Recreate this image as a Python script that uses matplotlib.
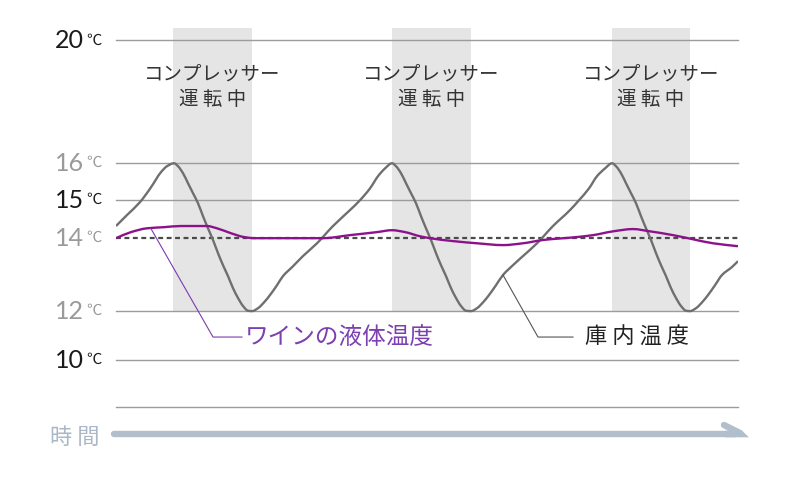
import numpy as np
import matplotlib
matplotlib.use('Agg')
import matplotlib.pyplot as plt
import matplotlib.transforms as mtransforms
from matplotlib.lines import Line2D
from matplotlib.patches import Polygon, PathPatch
from matplotlib.path import Path

# --- data (time in arbitrary units, temperature in deg C) ---
compressor_on = [(57, 136), (276, 355), (496, 574)]

fridge_t = [0, 11, 24, 35, 45, 51, 58, 62, 67, 72, 77, 82, 87, 92, 97, 102, 107, 112,
            117, 122, 127, 132, 136, 142, 149, 154, 161, 167, 177, 187, 201, 217, 234,
            244, 254, 262, 269, 276,
            280, 285, 290, 295, 300, 305, 310, 315, 320, 325, 330, 335, 340, 345, 350,
            355, 361, 368, 373, 380, 387, 397, 407, 421, 437, 454, 463, 473, 481, 489,
            496,
            500, 505, 510, 515, 520, 525, 530, 535, 540, 545, 550, 555, 560, 565, 570,
            574, 580, 587, 592, 599, 606, 616, 622]
fridge_temp = [14.32, 14.61, 14.95, 15.35, 15.76, 15.92, 16.0, 15.92, 15.73, 15.46,
               15.19, 14.92, 14.58, 14.26, 13.95, 13.59, 13.26, 12.96, 12.63, 12.36,
               12.14, 12.01, 12.0, 12.08, 12.27, 12.44, 12.71, 12.96, 13.23, 13.51,
               13.86, 14.32, 14.74, 15.0, 15.32, 15.65, 15.86, 16.0,
               15.92, 15.73, 15.46, 15.19, 14.92, 14.58, 14.26, 13.95, 13.59, 13.26,
               12.96, 12.63, 12.36, 12.14, 12.01, 12.0, 12.08, 12.27, 12.44, 12.71,
               12.99, 13.26, 13.51, 13.86, 14.32, 14.74, 15.0, 15.32, 15.65, 15.86,
               16.0,
               15.92, 15.73, 15.46, 15.19, 14.92, 14.58, 14.26, 13.95, 13.59, 13.26,
               12.96, 12.63, 12.36, 12.14, 12.01, 12.0, 12.08, 12.27, 12.44, 12.71,
               12.99, 13.21, 13.37]

wine_t = [0, 15, 31, 48, 65, 91, 101, 115, 128, 138, 174, 207, 234, 261, 276, 289,
          304, 314, 337, 361, 387, 407, 427, 461, 477, 497, 517, 534, 557, 577, 597, 622]
wine_temp = [14.0, 14.16, 14.26, 14.29, 14.32, 14.32, 14.26, 14.13, 14.03, 14.0, 14.0,
             14.0, 14.08, 14.16, 14.21, 14.16, 14.05, 14.0, 13.92, 13.86, 13.81, 13.86,
             13.95, 14.03, 14.08, 14.18, 14.24, 14.18, 14.08, 13.97, 13.86, 13.78]

target_temp = 14
tick_temps = [20, 16, 15, 14, 12, 10]
tick_dark = [True, False, True, False, False, True]
grid_temps = [20, 16, 15, 12, 10, 8]

# uneven illustrative temperature axis (deg C -> height)
scale_temps = [8, 10, 12, 14, 15, 16, 20, 21]
scale_height = [0, 47, 96, 169, 207, 244, 367, 398]

def fwd(v):
    return np.interp(v, scale_temps, scale_height)

def inv(v):
    return np.interp(v, scale_height, scale_temps)

def smooth_path(x, y):
    # monotone cubic (Fritsch-Carlson) drawn as bezier segments
    x = np.asarray(x, float)
    y = np.asarray(y, float)
    h = np.diff(x)
    d = np.diff(y) / h
    m = np.zeros_like(y)
    m[0], m[-1] = d[0], d[-1]
    for i in range(1, len(x) - 1):
        if d[i - 1] * d[i] <= 0:
            m[i] = 0
        else:
            w1 = 2 * h[i] + h[i - 1]
            w2 = h[i] + 2 * h[i - 1]
            m[i] = (w1 + w2) / (w1 / d[i - 1] + w2 / d[i])
    verts = [(x[0], y[0])]
    codes = [Path.MOVETO]
    for i in range(len(x) - 1):
        verts += [(x[i] + h[i] / 3, y[i] + m[i] * h[i] / 3),
                  (x[i + 1] - h[i] / 3, y[i + 1] - m[i + 1] * h[i] / 3),
                  (x[i + 1], y[i + 1])]
        codes += [Path.CURVE4] * 3
    return Path(verts, codes)

jp = ['Noto Sans CJK JP', 'DejaVu Sans']
num = ['Lato', 'Noto Sans CJK JP', 'DejaVu Sans']

fig = plt.figure(figsize=(8, 4.8), dpi=100)
# overlay in pixel coords for labels and time arrow
ov = fig.add_axes([0, 0, 1, 1])
ov.set_xlim(0, 800)
ov.set_ylim(480, 0)
ov.axis('off')

ax = fig.add_axes([116/800, 73/480, 622/800, 379/480])
ax.set_yscale('function', functions=(fwd, inv))
ax.set_xlim(0, 622)
ax.set_ylim(8, 20.4)
ax.axis('off')

for a, b in compressor_on:
    ax.axvspan(a, b, ymin=0, ymax=1, color='#e5e5e5', lw=0, zorder=0)
    ax.fill_between([a, b], 8, 12, color='white', lw=0, zorder=0.5)
    ax.text((a + b) / 2, 18.5, 'コンプレッサー\n運 転 中', ha='center', va='center',
            fontsize=14, color='#333333', family=jp, linespacing=1.3, zorder=5)

for g in grid_temps:
    ax.axhline(g, color='#9c9c9c', lw=1.0, zorder=1, clip_on=False)
ax.axhline(target_temp, color='#4a4a4a', lw=1.6, dashes=(2.2, 1.6), zorder=2)

# curves drawn smooth in the scaled space of the axis
affine = ax.transLimits + ax.transAxes
ax.add_patch(PathPatch(smooth_path(fridge_t, fwd(fridge_temp)), fc='none',
                       ec='#6f6f6f', lw=1.7, zorder=3, transform=affine))
ax.add_patch(PathPatch(smooth_path(wine_t, fwd(wine_temp)), fc='none',
                       ec='#8c128c', lw=1.7, zorder=4, transform=affine))

# leader lines and labels
ax.plot([35, 97, 126], [14.25, 10.94, 10.94], color='#7a3cb0', lw=0.8, zorder=4)
ax.text(129, 10.94, 'ワインの液体温度', ha='left', va='center', fontsize=17,
        color='#7b3fb0', family=jp)
ax.plot([387, 422, 457], [12.99, 10.94, 10.94], color='#555555', lw=0.8, zorder=4)
ax.text(469, 10.94, '庫 内 温 度', ha='left', va='center', fontsize=16,
        color='#222222', family=jp)

# y labels
ytr = mtransforms.blended_transform_factory(ov.transData, ax.transData)
for t, dark in zip(tick_temps, tick_dark):
    c = '#1a1a1a' if dark else '#9a9a9a'
    fig.text(84, t, str(t), transform=ytr, ha='right', va='center',
             fontsize=18, color=c, family=num)
    fig.text(86, t, '℃', transform=ytr, ha='left', va='center',
             fontsize=11, color=c, family=num)

# time arrow
arrow_c = '#b1bfcd'
ov.add_line(Line2D([114, 735], [434, 434], color=arrow_c, lw=4.6,
                   solid_capstyle='round'))
ov.add_line(Line2D([724, 740], [425, 433], color=arrow_c, lw=4.6,
                   solid_capstyle='round'))
ov.add_patch(Polygon([[725, 430.7], [742, 430.7], [749, 437.3], [725, 437.3]],
                     closed=True, color=arrow_c, lw=0))
ov.text(100, 437, '時 間', ha='right', va='center', fontsize=16,
        color='#a9b7c7', family=jp)

fig.savefig('out.png', dpi=100)
